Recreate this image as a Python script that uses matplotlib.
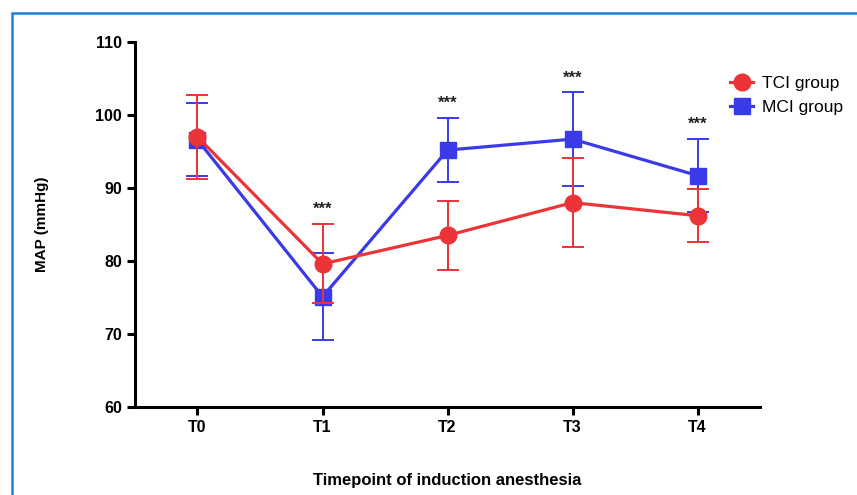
import matplotlib.pyplot as plt
from matplotlib.patches import Rectangle
from matplotlib.lines import Line2D

plt.rcParams['font.family'] = ['Liberation Sans', 'DejaVu Sans']

# data
timepoints = ['T0', 'T1', 'T2', 'T3', 'T4']
tci_mean = [97.0, 79.6, 83.5, 88.0, 86.2]
tci_sd = [5.8, 5.4, 4.7, 6.1, 3.6]
mci_mean = [96.6, 75.1, 95.2, 96.7, 91.7]
mci_sd = [5.0, 6.0, 4.4, 6.4, 5.0]
sig_pos = [1, 2, 3, 4]
sig_y = [86.0, 100.6, 104.0, 97.7]

red = '#ec3338'
blue = '#3a3ae8'

fig = plt.figure(figsize=(8.57, 4.95), dpi=100)
ax = fig.add_axes([0.1575, 0.178, 0.7295, 0.737])

x = list(range(len(timepoints)))

ax.errorbar(x, mci_mean, yerr=mci_sd, color=blue, marker='s', markersize=11,
            linewidth=2.3, elinewidth=1.4, capsize=8, capthick=1.4, zorder=3)
ax.errorbar(x, tci_mean, yerr=tci_sd, color=red, marker='o', markersize=12,
            linewidth=2.3, elinewidth=1.4, capsize=8, capthick=1.4, zorder=4)

for p, yv in zip(sig_pos, sig_y):
    ax.text(p, yv, '***', ha='center', va='bottom', fontsize=12, fontweight='bold',
            color='#222222')

ax.set_xlim(-0.5, 4.5)
ax.set_ylim(60, 110)
ax.set_yticks([60, 70, 80, 90, 100, 110])
ax.set_xticks(x)
ax.set_xticklabels(timepoints)

for s in ['top', 'right']:
    ax.spines[s].set_visible(False)
for s in ['left', 'bottom']:
    ax.spines[s].set_linewidth(2.2)
ax.tick_params(axis='both', width=2.2, length=6, labelsize=11.5, direction='out')
for lab in ax.get_xticklabels() + ax.get_yticklabels():
    lab.set_fontweight('bold')

ax.set_ylabel('MAP (mmHg)', fontsize=11, fontweight='bold', labelpad=33)
ax.set_xlabel('Timepoint of induction anesthesia', fontsize=12, fontweight='bold', labelpad=27)

handles = [Line2D([], [], color=red, marker='o', markersize=12, linewidth=2.3),
           Line2D([], [], color=blue, marker='s', markersize=11, linewidth=2.3)]
fig.legend(handles, ['TCI group', 'MCI group'], loc='upper left',
           bbox_to_anchor=(0.834, 0.878), frameon=False, fontsize=12.5,
           handlelength=1.3, handletextpad=0.5, labelspacing=0.5)

# blue frame around figure
fig.patches.append(Rectangle((0.014, -0.05), 1.1, 1.024, transform=fig.transFigure,
                             fill=False, edgecolor='#1f7fd6', linewidth=1.8))

fig.savefig('out.png', dpi=100)
